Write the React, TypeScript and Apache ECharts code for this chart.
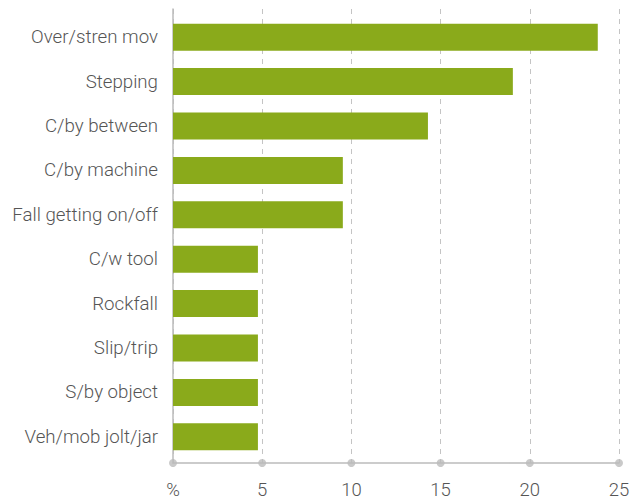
import React, { useEffect, useRef } from "react";
import * as echarts from "echarts";

const categories = [
  "Over/stren mov",
  "Stepping",
  "C/by between",
  "C/by machine",
  "Fall getting on/off",
  "C/w tool",
  "Rockfall",
  "Slip/trip",
  "S/by object",
  "Veh/mob jolt/jar",
];
const values = [23.81, 19.05, 14.29, 9.52, 9.52, 4.76, 4.76, 4.76, 4.76, 4.76];
const tickValues = [0, 5, 10, 15, 20, 25];
const tickLabels = ["%", "5", "10", "15", "20", "25"];

export default function App() {
  const ref = useRef<HTMLDivElement>(null);
  useEffect(() => {
    document.body.style.margin = "0";
    if (!ref.current) return;
    const chart = echarts.init(ref.current, undefined, { renderer: "svg" });
    const font = "Roboto";
    chart.setOption({
      animation: false,
      textStyle: { fontFamily: font },
      grid: [
        { left: 173, right: 24, top: 9, bottom: 35 },
        { left: 173, right: 24, top: 15, height: 444 },
      ],
      xAxis: [
        {
          gridIndex: 0,
          type: "value",
          min: 0,
          max: 25,
          interval: 5,
          axisLine: { show: true, lineStyle: { color: "#bbbbbb", width: 1.5 } },
          axisTick: { show: false },
          splitLine: { show: true, lineStyle: { color: "#c4c4c4", type: [5, 5] } },
          axisLabel: {
            margin: 17,
            fontSize: 18.5,
            fontWeight: 300,
            color: "#555",
            fontFamily: font,
            formatter: (v: number) => tickLabels[tickValues.indexOf(v)] ?? String(v),
          },
        },
        {
          gridIndex: 1,
          type: "value",
          min: 0,
          max: 25,
          show: false,
        },
      ],
      yAxis: [
        {
          gridIndex: 0,
          type: "value",
          min: 0,
          max: 1,
          axisLine: { show: true, lineStyle: { color: "#bbbbbb", width: 1.5 } },
          axisTick: { show: false },
          axisLabel: { show: false },
          splitLine: { show: false },
        },
        {
          gridIndex: 1,
          type: "category",
          inverse: true,
          data: categories,
          axisLine: { show: false },
          axisTick: { show: false },
          splitLine: { show: false },
          axisLabel: {
            margin: 15,
            fontSize: 18.7,
            fontWeight: 300,
            color: "#555",
            fontFamily: font,
          },
        },
      ],
      series: [
        {
          type: "bar",
          xAxisIndex: 1,
          yAxisIndex: 1,
          data: values,
          barWidth: 27,
          itemStyle: { color: "#8aaa1b" },
        },
        {
          type: "scatter",
          xAxisIndex: 0,
          yAxisIndex: 0,
          data: tickValues.map((v) => [v, 0]),
          symbol: "circle",
          symbolSize: 8,
          clip: false,
          z: 10,
          itemStyle: { color: "#bbbbbb" },
        },
      ],
    });
    return () => chart.dispose();
  }, []);
  return <div ref={ref} style={{ width: 643, height: 499 }} />;
}
